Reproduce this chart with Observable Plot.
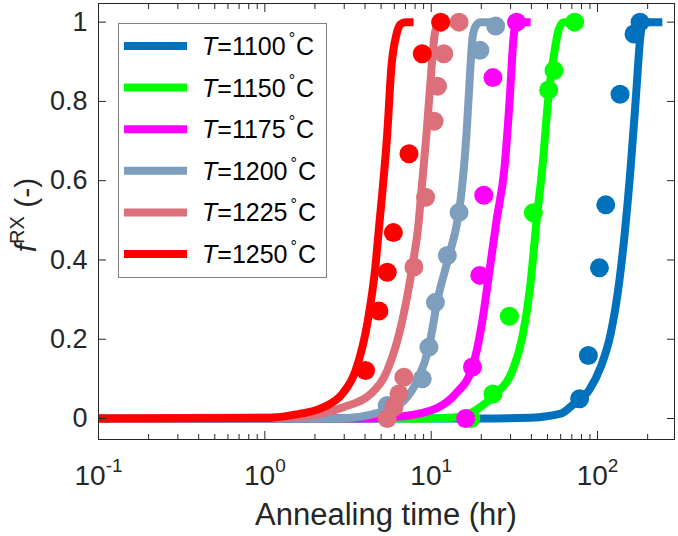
<!DOCTYPE html>
<html><head><meta charset="utf-8">
<script src="https://cdn.jsdelivr.net/npm/d3@7"></script>
<script src="https://cdn.jsdelivr.net/npm/@observablehq/plot@0.6"></script>
<style>
html,body{margin:0;padding:0;background:#fff;}
#chart{width:678px;height:536px;}
</style></head>
<body><div id="chart"></div>
<script>
// ---- data ----
const temperatures = [1100, 1150, 1175, 1200, 1225, 1250];
const seriesColors = ["#0072BD", "#00FF00", "#FF00FF", "#7D9EBC", "#DD6F7A", "#FF0000"];

// fitted curves (time in hr, fraction recrystallized)
const curve1100_t = [0.1, 19.8, 39.6, 60.0, 72.1, 88.8, 104.5, 119.9, 134.5, 145.5, 158.1, 169.4, 181.5, 186.6, 245];
const curve1100_f = [0, 0, 0.002, 0.012, 0.037, 0.071, 0.13, 0.214, 0.34, 0.466, 0.634, 0.802, 0.97, 1.0, 1.0];
const curve1150_t = [0.1, 8.63, 14.4, 19.8, 24.4, 30.8, 35.3, 39.3, 43.0, 46.6, 50.4, 55.2, 58.3, 62.5, 72.8];
const curve1150_f = [0, 0, 0.003, 0.029, 0.062, 0.121, 0.205, 0.331, 0.5, 0.634, 0.802, 0.929, 0.98, 1.0, 1.0];
const curve1175_t = [0.1, 4.33, 6.55, 10.9, 14.0, 17.7, 20.3, 22.2, 24.7, 27.6, 29.6, 31.4, 32.7, 39.6];
const curve1175_f = [0, 0, 0.005, 0.027, 0.062, 0.13, 0.247, 0.361, 0.5, 0.634, 0.802, 0.97, 1.0, 1.0];
const curve1200_t = [0.1, 2.72, 4.97, 6.85, 8.25, 9.69, 10.9, 12.8, 14.4, 15.0, 16.3, 17.2, 17.7, 18.5, 19.8, 24.9];
const curve1200_f = [0, 0, 0.016, 0.045, 0.096, 0.18, 0.298, 0.411, 0.5, 0.55, 0.718, 0.886, 0.96, 0.99, 1.0, 1.0];
const curve1225_t = [0.1, 1.43, 2.99, 4.33, 5.44, 6.70, 7.69, 8.43, 8.63, 9.37, 10.05, 10.5, 11.0, 11.6, 12.5];
const curve1225_f = [0, 0.003, 0.029, 0.062, 0.121, 0.247, 0.382, 0.5, 0.55, 0.718, 0.886, 0.97, 0.995, 1.0, 1.0];
const curve1250_t = [0.1, 1.0, 1.43, 2.26, 2.92, 3.51, 4.16, 4.59, 4.90, 5.03, 5.44, 5.76, 6.19, 6.55, 7.0, 7.83];
const curve1250_f = [0, 0.001, 0.008, 0.029, 0.062, 0.121, 0.247, 0.373, 0.5, 0.55, 0.718, 0.886, 0.97, 0.995, 1.0, 1.0];

// measured points
const dots1100_t = [78, 88, 102.6, 112, 136.5, 165.6, 180];
const dots1100_f = [0.05, 0.159, 0.38, 0.539, 0.818, 0.97, 1.0];
const dots1150_t = [17.3, 23.5, 29.5, 41.1, 50.8, 54.7, 72.8];
const dots1150_f = [0.0, 0.062, 0.258, 0.519, 0.829, 0.878, 1.0];
const dots1175_t = [16.1, 17.7, 19.6, 20.7, 23.5, 32.6];
const dots1175_f = [0.0, 0.13, 0.361, 0.563, 0.86, 1.0];
const dots1200_t = [5.44, 8.83, 9.69, 10.6, 12.5, 14.7, 19.6, 24.4];
const dots1200_f = [0.033, 0.10, 0.18, 0.293, 0.411, 0.52, 0.929, 0.99];
const dots1225_t = [5.44, 5.97, 6.4, 6.85, 7.87, 9.25, 10.4, 10.9, 11.9, 14.7];
const dots1225_f = [0.0, 0.029, 0.062, 0.104, 0.382, 0.558, 0.75, 0.838, 0.92, 1.0];
const dots1250_t = [4.03, 4.85, 5.44, 5.92, 7.35, 8.83, 11.4];
const dots1250_f = [0.121, 0.271, 0.369, 0.469, 0.668, 0.92, 1.0];

// axis ticks and labels
const yTicks = [0, 0.2, 0.4, 0.6, 0.8, 1];
const yTickLabels = ["0", "0.2", "0.4", "0.6", "0.8", "1"];
const xMajorTicks = [0.1, 1, 10, 100];
const xTickLabels = ["10^-1", "10^0", "10^1", "10^2"];
const xLabel = "Annealing time (hr)";

// ---- build tables ----
const curveT = [curve1100_t, curve1150_t, curve1175_t, curve1200_t, curve1225_t, curve1250_t];
const curveF = [curve1100_f, curve1150_f, curve1175_f, curve1200_f, curve1225_f, curve1250_f];
const dotT = [dots1100_t, dots1150_t, dots1175_t, dots1200_t, dots1225_t, dots1250_t];
const dotF = [dots1100_f, dots1150_f, dots1175_f, dots1200_f, dots1225_f, dots1250_f];

const xMinorTicks = [];
for (const d of xMajorTicks) for (let k = 2; k <= 9; k++) if (d * k < 290) xMinorTicks.push(+(d * k).toPrecision(3));

const seriesMarks = [];
temperatures.forEach((T, i) => {
  const lineRows = curveT[i].map((t, j) => ({T, t, f: curveF[i][j]}));
  const dotRows = dotT[i].map((t, j) => ({T, t, f: dotF[i][j]}));
  seriesMarks.push(Plot.line(lineRows, {x: "t", y: "f", stroke: "T", strokeWidth: 8, curve: "monotone-x", strokeLinecap: "butt", strokeLinejoin: "round"}));
  seriesMarks.push(Plot.dot(dotRows, {x: "t", y: "f", fill: "T", r: 9.5, stroke: null}));
});

const axisColor = "#262626";
const svg = Plot.plot({
  width: 678, height: 536,
  marginLeft: 98, marginRight: 4, marginTop: 3, marginBottom: 97,
  style: {fontFamily: "'Liberation Sans', Arial, sans-serif", fontSize: "26px", color: axisColor, background: "#fff"},
  x: {type: "log", domain: [0.1, 290]},
  y: {domain: [-0.053, 1.047]},
  color: {domain: temperatures, range: seriesColors},
  marks: [
    ...seriesMarks,
    Plot.frame({stroke: axisColor, strokeWidth: 1}),
    Plot.axisX({anchor: "bottom", ticks: xMajorTicks, tickSize: -8, tickPadding: 34, tickFormat: d => xTickLabels[xMajorTicks.indexOf(d)], fontSize: 28, label: null}),
    Plot.axisX({anchor: "bottom", ticks: xMinorTicks, tickSize: -5, tickFormat: () => "", label: null}),
    Plot.axisX({anchor: "top", ticks: xMajorTicks, tickSize: -8, tickFormat: () => "", label: null}),
    Plot.axisX({anchor: "top", ticks: xMinorTicks, tickSize: -5, tickFormat: () => "", label: null}),
    Plot.axisY({anchor: "left", ticks: yTicks, tickSize: -8, tickPadding: 19, tickFormat: d => yTickLabels[yTicks.indexOf(d)], fontSize: 27, label: null}),
    Plot.axisY({anchor: "right", ticks: yTicks, tickSize: -8, tickFormat: () => "", label: null})
  ]
});

// superscripts on log tick labels
const ns = "http://www.w3.org/2000/svg";
svg.querySelectorAll('[aria-label="x-axis tick label"] text').forEach(el => {
  const s = el.textContent;
  if (!s.includes("^")) return;
  const [base, exp] = s.split("^");
  el.textContent = base;
  const sup = document.createElementNS(ns, "tspan");
  sup.setAttribute("dy", "-13");
  sup.setAttribute("font-size", "19");
  sup.textContent = exp;
  el.appendChild(sup);
});

const root = d3.select(svg);
// x label
root.append("text").attr("x", 386).attr("y", 525).attr("text-anchor", "middle")
  .attr("font-size", 31).attr("fill", axisColor).text(xLabel);
// y label
const yl = root.append("text").attr("transform", "translate(36,215) rotate(-90)")
  .attr("text-anchor", "middle").attr("font-size", 30).attr("fill", axisColor);
yl.append("tspan").attr("font-style", "italic").text("f");
yl.append("tspan").attr("font-size", 20).attr("dy", -12).text("RX");
yl.append("tspan").attr("dy", 12).text(" (-)");

// legend
const lg = root.append("g").attr("font-size", 25).attr("text-anchor", "start");
lg.append("rect").attr("x", 118.5).attr("y", 23.5).attr("width", 208).attr("height", 254)
  .attr("fill", "#fff").attr("stroke", "#808080");
temperatures.forEach((T, i) => {
  const cy = 46 + i * 41.6;
  lg.append("line").attr("x1", 124).attr("x2", 187).attr("y1", cy).attr("y2", cy)
    .attr("stroke", seriesColors[i]).attr("stroke-width", 8);
  const tx = lg.append("text").attr("x", 202).attr("y", cy + 9).attr("fill", "#000").attr("text-anchor", "start");
  tx.append("tspan").attr("font-style", "italic").text("T");
  tx.append("tspan").text("=" + T);
  tx.append("tspan").attr("font-size", 16).attr("dy", -11).attr("dx", 3).text("°");
  tx.append("tspan").attr("dy", 11).attr("dx", 1).text("C");
});

document.getElementById("chart").appendChild(svg);
</script>
</body></html>
